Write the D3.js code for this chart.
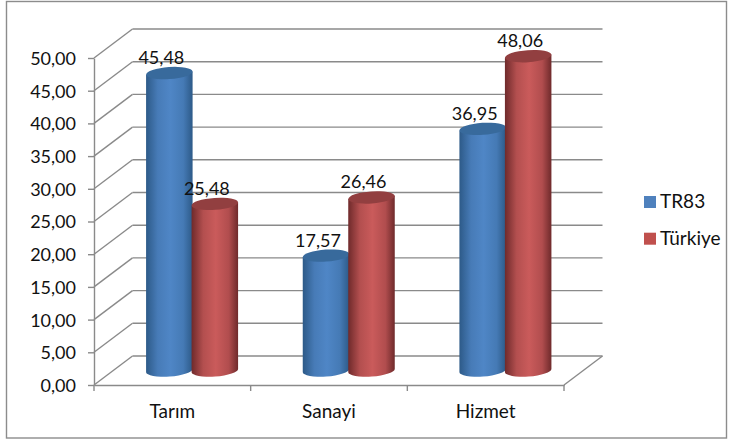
<!DOCTYPE html>
<meta charset="utf-8">
<style>
html, body { margin: 0; padding: 0; background: #fff; }
svg { display: block; }
text { font-family: Lato, "Open Sans", sans-serif; font-size: 18px; fill: #111; }
.axis text { font-size: 18px; }
.cat text { font-size: 19px; }
.legend text { font-size: 19px; }
.axis path, .axis line, .wall line { stroke: #8a8a8a; stroke-width: 1.4px; fill: none; }
</style>

<svg id="chart" width="729" height="441"></svg>

<script src="https://d3js.org/d3.v7.min.js"></script>
<script>
var categories = ["Tarım", "Sanayi", "Hizmet"];
var seriesNames = ["TR83", "Türkiye"];
var tr83 = [45.48, 17.57, 36.95];
var turkiye = [25.48, 26.46, 48.06];
var yTicks = [0, 5, 10, 15, 20, 25, 30, 35, 40, 45, 50];
var seriesColors = [
    { dark: "#2d5a88", mid: "#4f86c6", top: "#386a9c", legend: "#4f81bd" },
    { dark: "#6f2a2b", mid: "#ca5b5b", top: "#923f40", legend: "#c0504d" }
];

var svg = d3.select("#chart");

// depth of the 3d box
var depthX = 38.5, depthY = -29;

var y = d3.scaleLinear().domain([0, 50]).range([385, 58]);
var x = d3.scaleBand().domain(categories).range([94, 564]);
var xInner = d3.scaleBand().domain(seriesNames).range([0, 91]);
var fmt = function(v) { return d3.format(".2f")(v).replace(".", ","); };

svg.append("rect")
    .attr("x", 6.5).attr("y", 1.5).attr("width", 720).attr("height", 436.5)
    .attr("fill", "#fff").attr("stroke", "#8c8c8c").attr("stroke-width", 1.4);

// back wall and side wall
var wall = svg.append("g").attr("class", "wall");
wall.selectAll("line.back").data(yTicks).enter().append("line")
    .attr("class", "back")
    .attr("x1", 94 + depthX).attr("x2", 564 + depthX)
    .attr("y1", function(d) { return y(d) + depthY; })
    .attr("y2", function(d) { return y(d) + depthY; });
wall.selectAll("line.side").data(yTicks).enter().append("line")
    .attr("class", "side")
    .attr("x1", 94).attr("x2", 94 + depthX)
    .attr("y1", function(d) { return y(d); })
    .attr("y2", function(d) { return y(d) + depthY; });
wall.append("line")
    .attr("x1", 564).attr("x2", 564 + depthX)
    .attr("y1", y(0)).attr("y2", y(0) + depthY);

// axes
var yAxis = d3.axisLeft(y).tickValues(yTicks).tickFormat(fmt).tickSize(6).tickSizeOuter(0).tickPadding(12);
var gy = svg.append("g").attr("class", "axis").attr("transform", "translate(94,0)").call(yAxis);
gy.selectAll("text").attr("dy", "0.36em");

var xAxis = d3.axisBottom(x).tickSize(0).tickPadding(20);
var gx = svg.append("g").attr("class", "axis cat").attr("transform", "translate(0," + y(0) + ")").call(xAxis);
gx.selectAll("text").attr("dy", "0.71em");
gx.selectAll("line.sep").data(d3.range(4)).enter().append("line")
    .attr("class", "sep")
    .attr("x1", function(i) { return 94 + i * x.step(); })
    .attr("x2", function(i) { return 94 + i * x.step(); })
    .attr("y1", 0).attr("y2", 6);

// gradients for the cylinders
var defs = svg.append("defs");
seriesColors.forEach(function(c, i) {
    var g = defs.append("linearGradient").attr("id", "cyl" + i);
    g.append("stop").attr("offset", "0%").attr("stop-color", c.dark);
    g.append("stop").attr("offset", "25%").attr("stop-color", d3.interpolateRgb(c.dark, c.mid)(0.75));
    g.append("stop").attr("offset", "52%").attr("stop-color", c.mid);
    g.append("stop").attr("offset", "80%").attr("stop-color", d3.interpolateRgb(c.dark, c.mid)(0.72));
    g.append("stop").attr("offset", "100%").attr("stop-color", c.dark);
});

// bars stand in the middle of the depth
var midX = depthX / 2, midY = depthY / 2;
var ry = 6, tilt = -4;
var rows = [];
categories.forEach(function(c, i) {
    rows.push({ cat: c, s: 0, name: seriesNames[0], value: tr83[i] });
    rows.push({ cat: c, s: 1, name: seriesNames[1], value: turkiye[i] });
});

var bars = svg.append("g").selectAll("g").data(rows).enter().append("g")
    .attr("transform", function(d) {
        return "translate(" + (x(d.cat) + (x.step() - 91) / 2 + xInner(d.name) + midX) + ",0)";
    });

bars.each(function(d) {
    var g = d3.select(this);
    var w = xInner.bandwidth(), r = w / 2 + 0.5;
    var yTop = y(d.value) + midY, yBase = y(0) + midY;
    var dy = Math.tan(tilt * Math.PI / 180) * r;
    g.append("path")
        .attr("fill", "url(#cyl" + d.s + ")")
        .attr("d", "M0," + (yTop - dy) + "L" + (2 * r) + "," + (yTop + dy) +
            "L" + (2 * r) + "," + (yBase + dy) +
            "A" + r + "," + ry + " " + tilt + " 0 1 0," + (yBase - dy) + "Z");
    g.append("ellipse")
        .attr("cx", r).attr("cy", yTop).attr("rx", r).attr("ry", ry)
        .attr("transform", "rotate(" + tilt + " " + r + " " + yTop + ")")
        .attr("fill", seriesColors[d.s].top);
    g.append("text")
        .attr("x", r - 8).attr("y", yTop - 9)
        .attr("text-anchor", "middle")
        .text(fmt(d.value));
});

// legend
var legend = svg.append("g").attr("class", "legend").selectAll("g").data(seriesNames).enter().append("g")
    .attr("transform", function(d, i) { return "translate(644," + (196 + i * 36.7) + ")"; });
legend.append("rect").attr("width", 12).attr("height", 12)
    .attr("fill", function(d, i) { return seriesColors[i].legend; });
legend.append("text").attr("x", 16).attr("y", 12).text(function(d) { return d; });
</script>
